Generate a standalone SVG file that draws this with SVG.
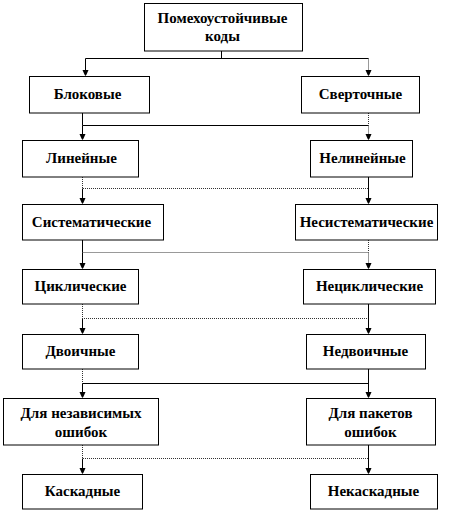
<svg xmlns="http://www.w3.org/2000/svg" width="454" height="513" viewBox="0 0 454 513">
<style>
.box{fill:#fff;stroke:#000;stroke-width:1}
.t{font-family:"Liberation Serif","Times New Roman",serif;font-weight:bold;font-size:15px;fill:#000;text-anchor:middle}
.s{fill:none;stroke:#000;stroke-width:1}
.d{fill:none;stroke:#333;stroke-width:1;stroke-dasharray:1,1}
.ah{fill:#000}
</style>
<defs>
<path id="a" d="M-3,-6 H3 L1,-1.5 L0,0 L-1,-1.5 Z"/>
</defs>
<rect width="454" height="513" fill="#fff"/>
<g id="connectors">
<path class="s" d="M221.5,51 V58.5 M85.5,58.5 H368.5"/>
<path class="s" d="M85.5,58.5 V72"/>
<path class="d" d="M368.5,58.5 V72"/>
<path class="s" d="M82.5,113 V125.5 H368.5"/>
<path class="d" d="M368.5,113 V125.5"/>
<path class="s" d="M82.5,125.5 V136"/>
<path class="d" d="M368.5,125.5 V136"/>
<path class="d" d="M82.5,177 V188.5 H368.5"/>
<path class="s" d="M368.5,177 V200"/>
<path class="s" d="M82.5,188.5 V200"/>
<path class="s" d="M82.5,240 V252.5"/>
<path class="d" d="M82.5,252.5 H368.5 M368.5,240 V252.5"/>
<path class="s" d="M82.5,252.5 V265"/>
<path class="d" d="M368.5,252.5 V265"/>
<path class="d" d="M82.5,304 V318.5 H368.5"/>
<path class="s" d="M368.5,304 V330 M82.5,318.5 V330"/>
<path class="d" d="M82.5,369 V383.5"/>
<path class="s" d="M82.5,383.5 H368.5 M368.5,369 V394 M82.5,383.5 V394"/>
<path class="d" d="M82.5,445 V458.5 H368.5"/>
<path class="s" d="M368.5,445 V470 M82.5,458.5 V470"/>
<g class="ah">
<use href="#a" x="85.5" y="76"/><use href="#a" x="368.5" y="76"/>
<use href="#a" x="82.5" y="140"/><use href="#a" x="368.5" y="140"/>
<use href="#a" x="82.5" y="204"/><use href="#a" x="368.5" y="204"/>
<use href="#a" x="82.5" y="269"/><use href="#a" x="368.5" y="269"/>
<use href="#a" x="82.5" y="334"/><use href="#a" x="368.5" y="334"/>
<use href="#a" x="82.5" y="398"/><use href="#a" x="368.5" y="398"/>
<use href="#a" x="82.5" y="474"/><use href="#a" x="368.5" y="474"/>
</g>
</g>
<g id="n1"><rect class="box" x="144.5" y="3.5" width="158" height="47.5"/><text class="t" x="222.5" y="23">Помехоустойчивые</text><text class="t" x="222.5" y="41">коды</text></g>
<g id="n2"><rect class="box" x="29.5" y="76.5" width="120" height="36.5"/><text class="t" x="87.5" y="99">Блоковые</text></g>
<g id="n3"><rect class="box" x="301.5" y="76.5" width="118" height="36.5"/><text class="t" x="360.5" y="99">Сверточные</text></g>
<g id="n4"><rect class="box" x="22.5" y="140.5" width="116" height="36.5"/><text class="t" x="81.5" y="163">Линейные</text></g>
<g id="n5"><rect class="box" x="310.5" y="140.5" width="102" height="36.5"/><text class="t" x="362.5" y="163">Нелинейные</text></g>
<g id="n6"><rect class="box" x="22.5" y="204.5" width="141" height="35.5"/><text class="t" x="91.5" y="227">Систематические</text></g>
<g id="n7"><rect class="box" x="295.5" y="204.5" width="142" height="35.5"/><text class="t" x="366.5" y="227">Несистематические</text></g>
<g id="n8"><rect class="box" x="22.5" y="269.5" width="116" height="34.5"/><text class="t" x="80.5" y="291">Циклические</text></g>
<g id="n9"><rect class="box" x="303.5" y="269.5" width="132" height="34.5"/><text class="t" x="369.5" y="291">Нециклические</text></g>
<g id="n10"><rect class="box" x="22.5" y="334.5" width="116" height="34.5"/><text class="t" x="80.5" y="356">Двоичные</text></g>
<g id="n11"><rect class="box" x="306.5" y="334.5" width="119" height="34.5"/><text class="t" x="365.5" y="356">Недвоичные</text></g>
<g id="n12"><rect class="box" x="3.5" y="398.5" width="155" height="46.5"/><text class="t" x="81" y="418">Для независимых</text><text class="t" x="81" y="437">ошибок</text></g>
<g id="n13"><rect class="box" x="306.5" y="398.5" width="129" height="46.5"/><text class="t" x="370.5" y="418">Для пакетов</text><text class="t" x="370.5" y="437">ошибок</text></g>
<g id="n14"><rect class="box" x="22.5" y="474.5" width="120" height="34.5"/><text class="t" x="82.5" y="496">Каскадные</text></g>
<g id="n15"><rect class="box" x="310.5" y="474.5" width="127" height="34.5"/><text class="t" x="373.5" y="496">Некаскадные</text></g>
</svg>
